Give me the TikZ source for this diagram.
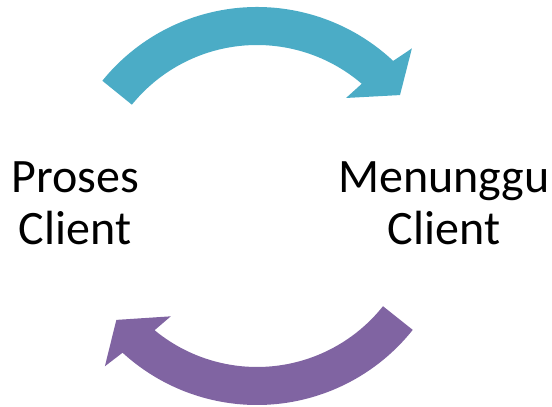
\documentclass[tikz,border=0pt]{standalone}
\usepackage{fontspec}
\setmainfont{Carlito}
\definecolor{arrteal}{HTML}{4BACC6}
\definecolor{arrpurple}{HTML}{8064A2}
\begin{document}
\begin{tikzpicture}[x=1pt,y=1pt,
  lbl/.style={align=center,anchor=base,inner sep=0pt,font=\fontsize{48}{52}\selectfont}]
\useasboundingbox (0,0) rectangle (552,407);
\coordinate (c) at (257,201);
\begin{scope}[shift={(c)}]
\fill[arrteal] (141:199pt) arc[start angle=141,end angle=46.8,radius=199pt]
  -- (45.5:221pt) -- (37.8:181pt) -- (50.5:140pt) -- (49.4:161pt)
  arc[start angle=49.4,end angle=141,radius=161pt] -- cycle;
\fill[arrpurple] (-38.5:199pt) arc[start angle=-38.5,end angle=-132.5,radius=199pt]
  -- (-133.5:221pt) -- (-141:181pt) -- (-128:140pt) -- (-129.5:161pt)
  arc[start angle=-129.5,end angle=-38.5,radius=161pt] -- cycle;
\end{scope}
\node[lbl] (proses) at (75,162) {Proses\\Client};
\node[lbl] (menunggu) at (444,162) {Menunggu\\Client};
\end{tikzpicture}
\end{document}
